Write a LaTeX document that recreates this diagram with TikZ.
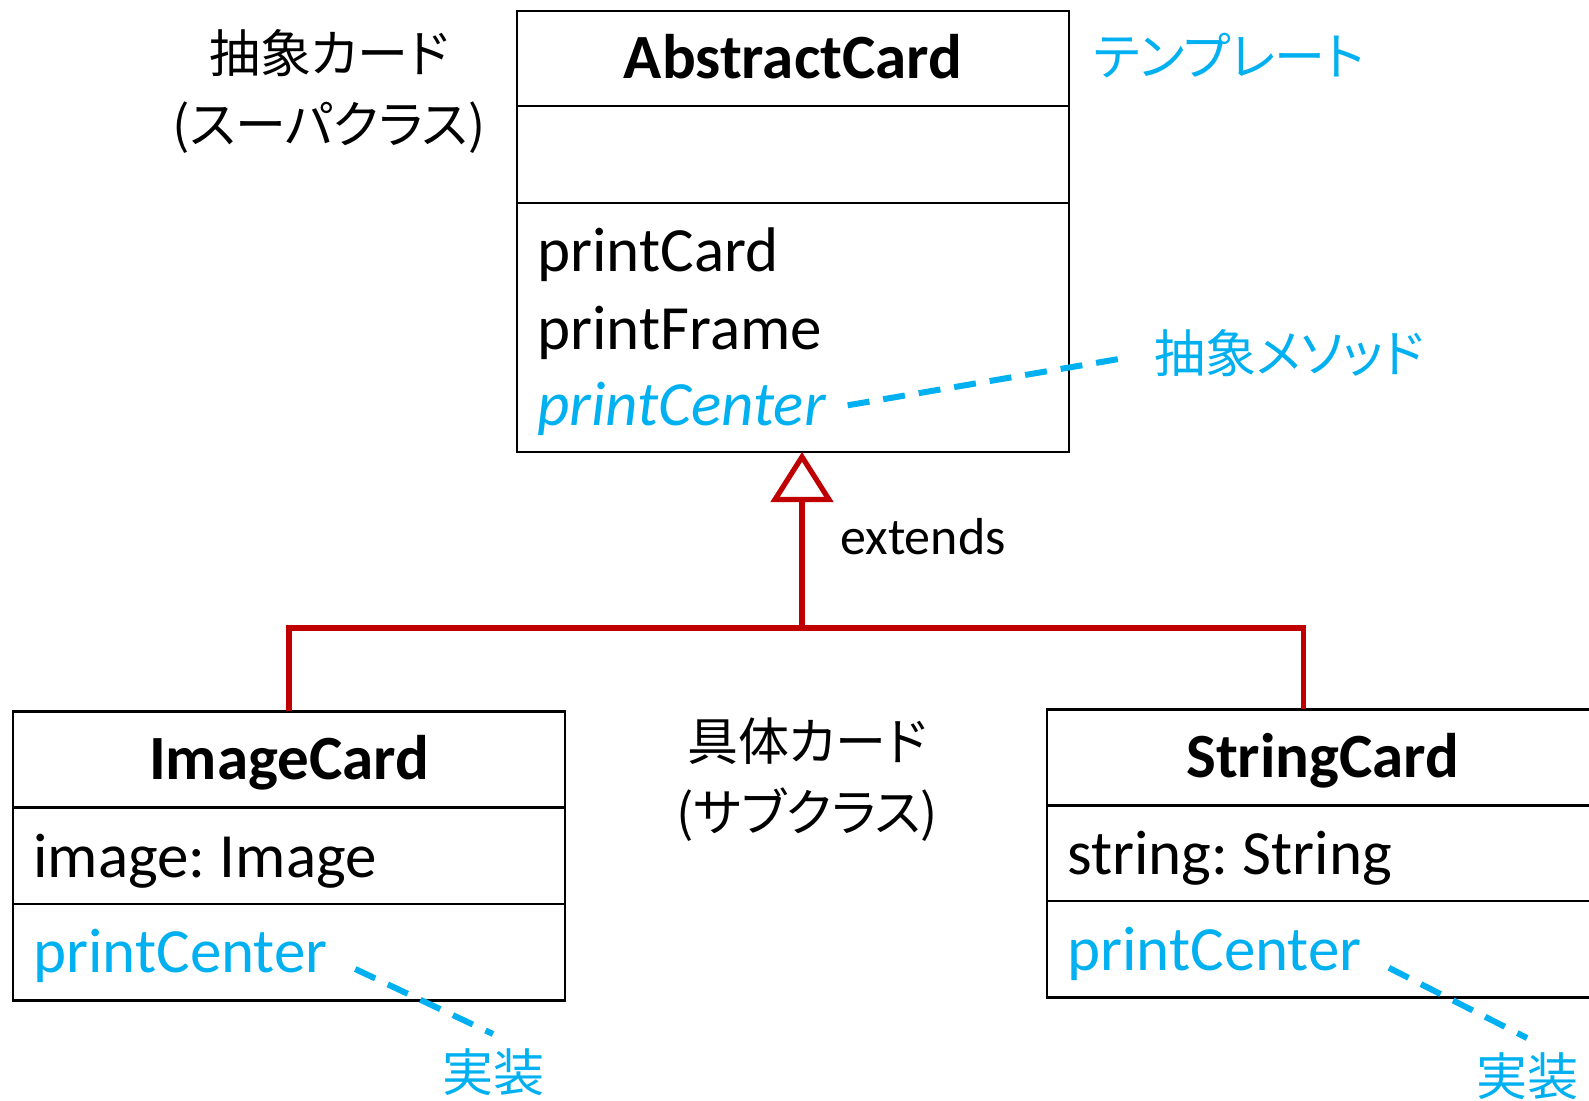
\documentclass[tikz,border=0pt]{standalone}
\usepackage{fontspec}
\setmainfont{Carlito}
\newfontfamily\jpfont{Noto Sans CJK JP}[RawFeature=+palt]
\usetikzlibrary{positioning,arrows.meta}
\frenchspacing

\definecolor{noteblue}{HTML}{00B0F0}
\definecolor{extred}{HTML}{C00000}

\tikzset{
  classpart/.style={draw, line width=1.3pt, minimum width=276pt, inner sep=0pt, outer sep=0pt},
  classname/.style={classpart, font=\fontsize{31.5}{36}\selectfont\bfseries, text height=20.3pt, text depth=0pt},
  member/.style={anchor=base west, inner sep=0pt, font=\fontsize{31.5}{36}\selectfont},
  abstractop/.style={member, text=noteblue, font=\fontsize{31.5}{36}\selectfont\itshape},
  jplabel/.style={inner sep=0pt, font=\fontsize{25.5}{35.5}\jpfont},
  extline/.style={draw=extred, line width=2.6pt},
  noteline/.style={draw=noteblue, line width=3pt, dash pattern=on 11pt off 7pt},
}

\begin{document}
\begin{tikzpicture}[x=0.5pt, y=-0.5pt]
  \useasboundingbox (0,0) rectangle (1589,1101);
  \clip (0,0) rectangle (1589,1101);

  % super class
  \node[classname, minimum height=47.5pt] (abs) at (793,58.5) {AbstractCard};
  \node[classpart, minimum height=48.5pt, below=0pt of abs] (absattr) {};
  \node[classpart, minimum height=124.5pt, below=0pt of absattr] (absop) {};
  \node[member] (absm1) at (537,271.6) {printCard};
  \node[member] (absm2) at (537,349.6) {printFrame};
  \node[abstractop] (absm3) at (537,425.6) {printCenter};

  % sub classes
  \node[classname, minimum height=48.2pt] (img) at (289,759.5) {ImageCard};
  \node[classpart, minimum height=48.2pt, below=0pt of img] (imgattr) {};
  \node[classpart, minimum height=48.2pt, below=0pt of imgattr] (imgop) {};
  \node[member] (imgm1) at (33,877.6) {image: Image};
  \node[member, text=noteblue] (imgm2) at (33,972.8) {printCenter};

  \node[classname, minimum height=48.1pt] (str) at (1322.8,757.5) {StringCard};
  \node[classpart, minimum height=47.7pt, below=0pt of str] (strattr) {};
  \node[classpart, minimum height=48.1pt, below=0pt of strattr] (strop) {};
  \node[member] (strm1) at (1067,874.6) {string: String};
  \node[member, text=noteblue] (strm2) at (1067,970.8) {printCenter};

  % labels
  \node[jplabel, align=center] (superlbl) at (329,91.5) {抽象カード\\(スーパクラス)};
  \node[jplabel, text=noteblue] (tmpl) at (1229,56) {テンプレート};
  \node[jplabel, text=noteblue] (absnote) at (1289,353) {抽象メソッド};
  \node[jplabel, align=center] (sublbl) at (807,779.5) {具体カード\\(サブクラス)};
  \node[jplabel, text=noteblue] (imgnote) at (493,1072) {実装};
  \node[jplabel, text=noteblue] (strnote) at (1527,1076) {実装};
  \node[font=\fontsize{26}{30}\selectfont] (extlbl) at (923,537) {extends};

  % inheritance
  \coordinate (junc) at (802,628);
  \draw[extline] (img.north) |- (junc) -| ([xshift=-9.5pt]str.north);
  \draw[extline, -{Triangle[open, length=25pt, width=31pt, fill=white]}] (junc) -- (junc |- absop.south);

  % notes
  \draw[noteline, shorten <=11pt, shorten >=17pt] (absm3.east) -- (absnote.west);
  \draw[noteline, shorten <=15pt] (imgm2.east) -- ([yshift=7pt]imgnote.north);
  \draw[noteline, shorten <=15pt] (strm2.east) -- ([yshift=7pt]strnote.north);
\end{tikzpicture}
\end{document}
